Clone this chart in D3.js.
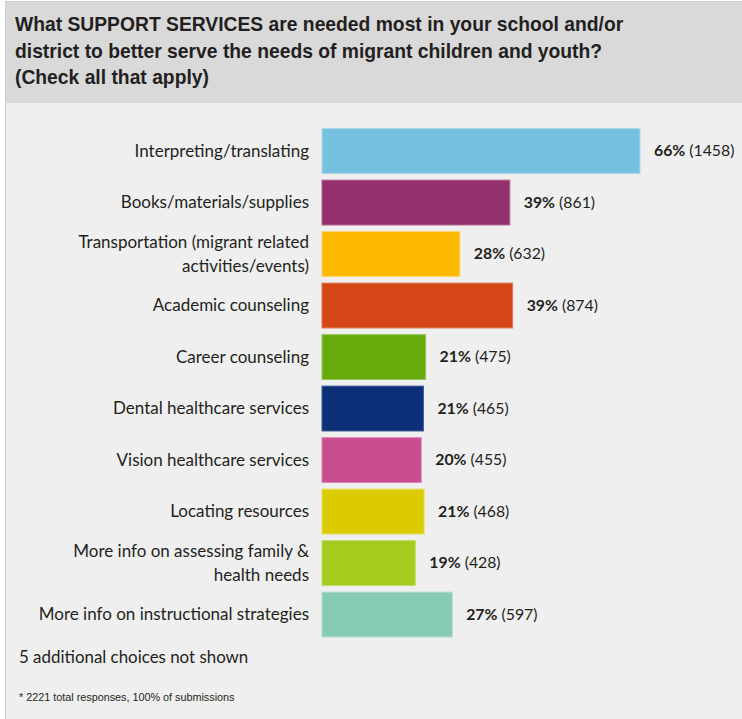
<!DOCTYPE html>
<html>
<head>
<meta charset="utf-8">
<script src="https://cdn.jsdelivr.net/npm/d3@7"></script>
<style>
  html, body { margin: 0; padding: 0; background: #ffffff; }
  svg { display: block; }
  .title { font-family: "Liberation Sans", sans-serif; font-weight: bold; font-size: 19.3px; fill: #231f20; }
  .cat { font-family: Lato, "Open Sans", sans-serif; font-size: 17px; fill: #231f20; }
  .val { font-family: Lato, "Open Sans", sans-serif; font-size: 15.8px; fill: #231f20; }
  .val .pct { font-weight: bold; }
  .note { font-family: Lato, sans-serif; font-size: 16.9px; fill: #231f20; }
  .foot { font-family: "Liberation Sans", sans-serif; font-size: 10.8px; fill: #231f20; }
</style>
</head>
<body>
<div id="chart"></div>
<script>
// Survey responses: support services needed for migrant children and youth
const categories = [
  ["Interpreting/translating"],
  ["Books/materials/supplies"],
  ["Transportation (migrant related", "activities/events)"],
  ["Academic counseling"],
  ["Career counseling"],
  ["Dental healthcare services"],
  ["Vision healthcare services"],
  ["Locating resources"],
  ["More info on assessing family &", "health needs"],
  ["More info on instructional strategies"]
];
const counts = [1458, 861, 632, 874, 475, 465, 455, 468, 428, 597];
const percents = ["66%", "39%", "28%", "39%", "21%", "21%", "20%", "21%", "19%", "27%"];
const colors = ["#76c0e0", "#93306e", "#fdb800", "#d44616", "#67aa0c", "#0c2f78", "#c84d8e", "#dccb00", "#a5cb1f", "#86cbb3"];
const strokes = ["#a9d8ec", "#b4648f", "#fdd26a", "#e2764f", "#93c655", "#3c5a95", "#dc86b3", "#e8dc5a", "#c4dd6a", "#b0dccb"];
const titleLines = [
  "What SUPPORT SERVICES are needed most in your school and/or",
  "district to better serve the needs of migrant children and youth?",
  "(Check all that apply)"
];
const hiddenNote = "5 additional choices not shown";
const footnote = "* 2221 total responses, 100% of submissions";

const W = 742, H = 719;
const svg = d3.select("#chart").append("svg").attr("width", W).attr("height", H);

// card background, border and title band
svg.append("rect").attr("x", 5.5).attr("y", 1.5).attr("width", W).attr("height", H)
  .attr("fill", "#efefef").attr("stroke", "#d0d0d0");
svg.append("rect").attr("x", 6).attr("y", 2).attr("width", W).attr("height", 101)
  .attr("fill", "#d9d9d9");

svg.append("g").selectAll("text").data(titleLines).join("text")
  .attr("class", "title")
  .attr("x", 15)
  .attr("y", (d, i) => 31 + i * 26.5)
  .text(d => d);

const ids = d3.range(categories.length);
const y = d3.scaleBand().domain(ids).range([125.3, 640.3]).paddingInner(0.11).paddingOuter(0.055);
const x = d3.scaleLinear().domain([0, d3.max(counts)]).range([322, 640]);

const rows = svg.append("g").selectAll("g").data(ids).join("g");

rows.append("rect")
  .attr("x", x(0))
  .attr("y", i => y(i) + 0.5)
  .attr("width", i => x(counts[i]) - x(0))
  .attr("height", y.bandwidth() - 1)
  .attr("fill", i => colors[i])
  .attr("stroke", i => strokes[i])
  .attr("stroke-width", 1);

// category labels, right-aligned to the left of the bars
rows.append("text")
  .attr("class", "cat")
  .attr("text-anchor", "end")
  .each(function (i) {
    const lines = categories[i];
    const cy = y(i) + y.bandwidth() / 2;
    const lh = 24;
    d3.select(this).selectAll("tspan").data(lines).join("tspan")
      .attr("x", 309)
      .attr("y", (d, k) => cy + 5.5 + (k - (lines.length - 1) / 2) * lh)
      .text(d => d);
  });

// value labels: bold percentage followed by response count
const vals = rows.append("text")
  .attr("class", "val")
  .attr("x", i => x(counts[i]) + 14)
  .attr("y", i => y(i) + y.bandwidth() / 2 + 5);
vals.append("tspan").attr("class", "pct").text(i => percents[i]);
vals.append("tspan").text(i => " (" + counts[i] + ")");

svg.append("text").attr("class", "note").attr("x", 19).attr("y", 663).text(hiddenNote);
svg.append("text").attr("class", "foot").attr("x", 19).attr("y", 701).text(footnote);
</script>
</body>
</html>
